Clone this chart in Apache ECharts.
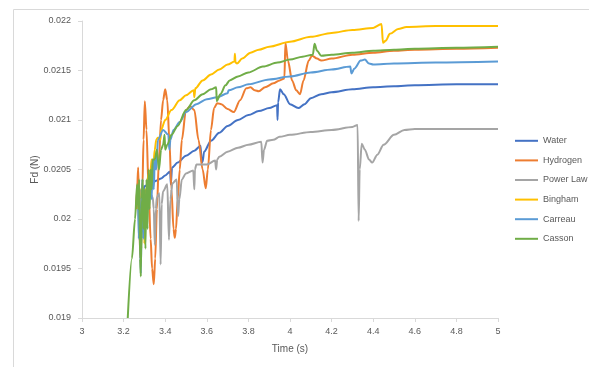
<!DOCTYPE html>
<html>
<head>
<meta charset="utf-8">
<script src="https://cdn.jsdelivr.net/npm/echarts@6/dist/echarts.min.js"></script>
<style>html,body{margin:0;padding:0;background:#fff}#c{width:589px;height:367px}</style>
</head>
<body>
<div id="c"></div>
<script>
var seriesNames = ["Water","Hydrogen","Power Law","Bingham","Carreau","Casson"];
var xTicks = {min:3, max:5, step:0.2};
var yTicks = {min:0.019, max:0.022, step:0.0005};

var water = [[3.265,0.02024],[3.27,0.02018],[3.275,0.02026],[3.28,0.02015],[3.285,0.0203],[3.29,0.0202],[3.30,0.02033],[3.32,0.02035],[3.34,0.02037],[3.36,0.02039],[3.38,0.02041],[3.40,0.02044],[3.424,0.02048],[3.427,0.02035],[3.433,0.02052],[3.46,0.02057],[3.50,0.02064],[3.54,0.02069],[3.57,0.02074],[3.575,0.02057],[3.58,0.02058],[3.587,0.02068],[3.62,0.02079],[3.66,0.02087],[3.70,0.02094],[3.75,0.02100],[3.80,0.02105],[3.85,0.02109],[3.90,0.02112],[3.938,0.02115],[3.940,0.0210],[3.943,0.02118],[3.952,0.02131],[3.97,0.02126],[4.0,0.02116],[4.04,0.02112],[4.07,0.02116],[4.1,0.02122],[4.15,0.02126],[4.2,0.02128],[4.3,0.02131],[4.4,0.02133],[4.5,0.02134],[4.6,0.02135],[4.8,0.02136],[5.0,0.02136]];

var hydrogen = [[3.26,0.0201],[3.265,0.0203],[3.27,0.02052],[3.275,0.0201],[3.28,0.0196],[3.285,0.0198],[3.29,0.0203],[3.296,0.0208],[3.302,0.02119],[3.31,0.0209],[3.32,0.0203],[3.33,0.0198],[3.337,0.0195],[3.345,0.01934],[3.352,0.0196],[3.36,0.0201],[3.37,0.0206],[3.38,0.0210],[3.39,0.0212],[3.40,0.02131],[3.41,0.0212],[3.42,0.0208],[3.43,0.0203],[3.44,0.0199],[3.446,0.01981],[3.452,0.0199],[3.46,0.0202],[3.47,0.0205],[3.48,0.0208],[3.50,0.0211],[3.52,0.02114],[3.54,0.0211],[3.56,0.0208],[3.58,0.0205],[3.595,0.02031],[3.605,0.0205],[3.62,0.0209],[3.635,0.02112],[3.65,0.02117],[3.67,0.02116],[3.70,0.02111],[3.73,0.02108],[3.76,0.0212],[3.79,0.02132],[3.81,0.02133],[3.83,0.0213],[3.85,0.02129],[3.88,0.02133],[3.92,0.02137],[3.95,0.0214],[3.973,0.02142],[3.978,0.02178],[3.99,0.0216],[4.01,0.0214],[4.03,0.0213],[4.048,0.02126],[4.065,0.0214],[4.09,0.0216],[4.106,0.02165],[4.13,0.02162],[4.15,0.0216],[4.2,0.02162],[4.3,0.02166],[4.4,0.02168],[4.5,0.0217],[4.6,0.02171],[4.8,0.02172],[5.0,0.02173]];

var powerLaw = [[3.27,0.0201],[3.275,0.0203],[3.28,0.0202],[3.29,0.02025],[3.30,0.0202],[3.31,0.02028],[3.32,0.0202],[3.33,0.02025],[3.34,0.02022],[3.345,0.0201],[3.35,0.01974],[3.355,0.0201],[3.36,0.02022],[3.372,0.02026],[3.378,0.01954],[3.383,0.02015],[3.39,0.02028],[3.41,0.02035],[3.418,0.01979],[3.425,0.0202],[3.435,0.02036],[3.455,0.0204],[3.462,0.02003],[3.468,0.0202],[3.48,0.0204],[3.50,0.02046],[3.535,0.02049],[3.54,0.0203],[3.543,0.0205],[3.55,0.02055],[3.60,0.02055],[3.64,0.02059],[3.645,0.0205],[3.65,0.0206],[3.66,0.02063],[3.70,0.02068],[3.75,0.02072],[3.80,0.02075],[3.862,0.02078],[3.868,0.02057],[3.875,0.0207],[3.89,0.02079],[3.92,0.0208],[3.95,0.02083],[4.0,0.02085],[4.1,0.02088],[4.2,0.0209],[4.3,0.02093],[4.325,0.02095],[4.33,0.01998],[4.335,0.0205],[4.345,0.02076],[4.36,0.0207],[4.38,0.0206],[4.395,0.02057],[4.42,0.02065],[4.45,0.02075],[4.5,0.02085],[4.55,0.0209],[4.6,0.02091],[4.8,0.02091],[5.0,0.02091]];

var bingham = [[3.27,0.0202],[3.275,0.0199],[3.28,0.0203],[3.285,0.0197],[3.29,0.0201],[3.295,0.0203],[3.30,0.01975],[3.305,0.0203],[3.31,0.0200],[3.315,0.0204],[3.32,0.02045],[3.33,0.0205],[3.335,0.0206],[3.34,0.0204],[3.345,0.0206],[3.35,0.0207],[3.357,0.0208],[3.365,0.02082],[3.375,0.02082],[3.377,0.0208],[3.38,0.0209],[3.40,0.0210],[3.43,0.0211],[3.47,0.0212],[3.50,0.02125],[3.537,0.02130],[3.54,0.02123],[3.545,0.02132],[3.58,0.0214],[3.62,0.02146],[3.66,0.02151],[3.70,0.02156],[3.733,0.02159],[3.735,0.02167],[3.738,0.02158],[3.745,0.02157],[3.77,0.02162],[3.81,0.02168],[3.85,0.02171],[3.9,0.02174],[4.0,0.02179],[4.1,0.02184],[4.2,0.02188],[4.3,0.02191],[4.4,0.02193],[4.44,0.02197],[4.447,0.02178],[4.46,0.0218],[4.48,0.02187],[4.52,0.02192],[4.56,0.02194],[4.7,0.02195],[5.0,0.02195]];

var carreau = [[3.27,0.0201],[3.273,0.0198],[3.277,0.0203],[3.28,0.0197],[3.283,0.01945],[3.287,0.0201],[3.29,0.0204],[3.295,0.0198],[3.30,0.0202],[3.305,0.0199],[3.31,0.0203],[3.32,0.0201],[3.33,0.0204],[3.335,0.0202],[3.34,0.0206],[3.345,0.0203],[3.35,0.0206],[3.357,0.0205],[3.365,0.0208],[3.39,0.0209],[3.415,0.02085],[3.42,0.0207],[3.425,0.0208],[3.44,0.0209],[3.47,0.02098],[3.50,0.02108],[3.55,0.02116],[3.60,0.02121],[3.65,0.02123],[3.70,0.02127],[3.705,0.02130],[3.75,0.02133],[3.80,0.02136],[3.9,0.02141],[4.0,0.02144],[4.1,0.02148],[4.2,0.02151],[4.29,0.02154],[4.295,0.02147],[4.31,0.02152],[4.34,0.0216],[4.36,0.02161],[4.38,0.02157],[4.40,0.02156],[4.5,0.02157],[4.7,0.02158],[5.0,0.02159]];

var casson = [[3.22,0.019],[3.24,0.0196],[3.255,0.0200],[3.265,0.02035],[3.27,0.0201],[3.275,0.0204],[3.279,0.0196],[3.283,0.01942],[3.287,0.0202],[3.292,0.0204],[3.296,0.0199],[3.30,0.0203],[3.305,0.0197],[3.31,0.0204],[3.315,0.0199],[3.32,0.0205],[3.325,0.0201],[3.33,0.0205],[3.335,0.0203],[3.34,0.0206],[3.35,0.0206],[3.36,0.0207],[3.37,0.0205],[3.38,0.0207],[3.39,0.02075],[3.397,0.02085],[3.40,0.0207],[3.41,0.02075],[3.43,0.02085],[3.46,0.02094],[3.50,0.0211],[3.54,0.0212],[3.58,0.02126],[3.62,0.02131],[3.645,0.02133],[3.648,0.02119],[3.665,0.02126],[3.69,0.02135],[3.71,0.0214],[3.75,0.02144],[3.80,0.02148],[3.87,0.02154],[3.94,0.02158],[4.0,0.02161],[4.06,0.02164],[4.11,0.02166],[4.118,0.02177],[4.13,0.0217],[4.15,0.02165],[4.2,0.02166],[4.3,0.02168],[4.4,0.0217],[4.5,0.02171],[4.6,0.02172],[4.8,0.02173],[5.0,0.02174]];

var colors = ["#4472C4","#ED7D31","#A5A5A5","#FFC000","#5B9BD5","#70AD47"];
var allData = [water, hydrogen, powerLaw, bingham, carreau, casson];

var chart = echarts.init(document.getElementById('c'));
var font = 'Liberation Sans, Arial, sans-serif';
chart.setOption({
  animation: false,
  color: colors,
  textStyle: {fontFamily: font},
  graphic: [{type:'rect', left: 11, top: 7, shape:{width: 640, height: 420}, style:{fill:'none', stroke:'#d9d9d9', lineWidth:1}, silent:true}],
  grid: {left: 82, right: 91, top: 21, bottom: 49},
  legend: {
    orient: 'vertical', left: 509, top: 131,
    itemWidth: 23, itemHeight: 12, itemGap: 10,
    itemStyle: {opacity: 0},
    textStyle: {color:'#595959', fontSize: 9, fontFamily: font},
    data: seriesNames
  },
  xAxis: {
    type:'value', min: xTicks.min, max: xTicks.max, interval: xTicks.step,
    name: 'Time (s)', nameLocation:'middle', nameGap: 26, nameMoveOverlap: false,
    nameTextStyle: {color:'#595959', fontSize: 10},
    axisLine: {show:true, lineStyle:{color:'#d9d9d9'}},
    axisTick: {show:true, length:4, lineStyle:{color:'#d9d9d9'}},
    axisLabel: {color:'#595959', fontSize: 9, margin: 9},
    splitLine: {show:false}
  },
  yAxis: {
    type:'value', min: yTicks.min, max: yTicks.max, interval: yTicks.step,
    name: 'Fd (N)', nameLocation:'middle', nameGap: 42, nameRotate: 90, nameMoveOverlap: false,
    nameTextStyle: {color:'#595959', fontSize: 10},
    axisLine: {show:true, lineStyle:{color:'#d9d9d9'}},
    axisTick: {show:true, length:4, lineStyle:{color:'#d9d9d9'}},
    axisLabel: {color:'#595959', fontSize: 9, margin: 11},
    splitLine: {show:false}
  },
  series: seriesNames.map(function(n, i){
    return {
      name: n, type:'line', data: allData[i], symbol:'none',
      smooth: 0.3, smoothMonotone: 'x',
      lineStyle: {width: 2, color: colors[i]},
      itemStyle: {color: colors[i]},
      clip: true
    };
  })
});
</script>
</body>
</html>
